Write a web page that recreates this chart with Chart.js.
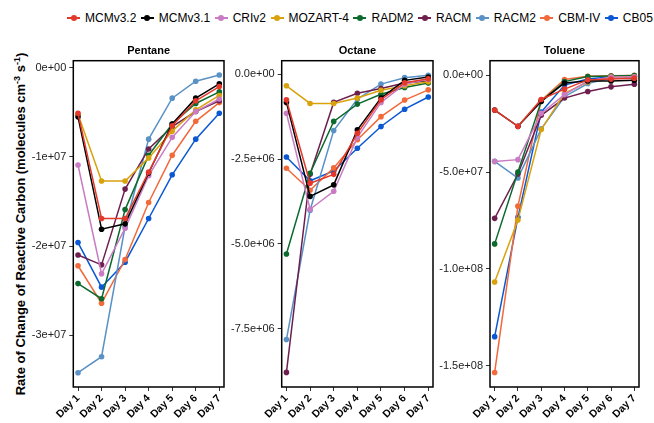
<!DOCTYPE html>
<html>
<head>
<meta charset="utf-8">
<script src="https://cdn.jsdelivr.net/npm/chart.js@4.4.0/dist/chart.umd.min.js"></script>
<style>
  body { margin: 0; width: 654px; height: 423px; position: relative; background: #fff; overflow: hidden;
         font-family: "Liberation Sans", Arial, sans-serif; }
  #legend { position: absolute; top: 11px; left: 67px; display: flex; align-items: center; white-space: nowrap;
            font-size: 12px; color: #000; }
  .item { display: flex; align-items: center; margin-right: 4.5px; }
  .key { position: relative; width: 13px; height: 12px; margin-right: 5px; }
  .key .ln { position: absolute; left: 0; right: 0; top: 5px; height: 2px; }
  .key .dt { position: absolute; left: 3.5px; top: 3px; width: 6px; height: 6px; border-radius: 50%; }
  #ytitle { position: absolute; left: 20px; top: 224px; transform: translate(-50%, -50%) rotate(-90deg);
            white-space: nowrap; font-weight: bold; font-size: 13px; color: #000; }
  #ytitle sup { font-size: 9px; }
  canvas { position: absolute; top: 40px; }
</style>
</head>
<body>
<div id="legend"></div>
<div id="ytitle">Rate of Change of Reactive Carbon (molecules cm<sup>-3</sup> s<sup>-1</sup>)</div>
<canvas id="c0" width="200" height="383" style="left:28px"></canvas>
<canvas id="c1" width="209" height="383" style="left:228px"></canvas>
<canvas id="c2" width="207" height="383" style="left:436px"></canvas>
<script>
const days = ['Day 1', 'Day 2', 'Day 3', 'Day 4', 'Day 5', 'Day 6', 'Day 7'];
const mechanisms = ['MCMv3.2', 'MCMv3.1', 'CRIv2', 'MOZART-4', 'RADM2', 'RACM', 'RACM2', 'CBM-IV', 'CB05'];
const colours = ['#e4392a', '#000000', '#c97cc4', '#d9a20c', '#0c6a2f', '#6d1f4e', '#5a92c6', '#f2693a', '#0b58d4'];

// rows follow mechanisms order, values per day
const pentane = [
  [-0.51e7, -1.69e7, -1.69e7, -1.17e7, -0.65e7, -0.37e7, -0.21e7],
  [-0.55e7, -1.81e7, -1.75e7, -1.18e7, -0.63e7, -0.34e7, -0.18e7],
  [-1.09e7, -2.31e7, -1.80e7, -1.21e7, -0.78e7, -0.49e7, -0.35e7],
  [-0.52e7, -1.27e7, -1.27e7, -1.01e7, -0.71e7, -0.47e7, -0.31e7],
  [-2.42e7, -2.59e7, -1.59e7, -0.98e7, -0.63e7, -0.40e7, -0.27e7],
  [-2.10e7, -2.21e7, -1.36e7, -0.91e7, -0.66e7, -0.49e7, -0.37e7],
  [-3.42e7, -3.24e7, -1.78e7, -0.80e7, -0.34e7, -0.15e7, -0.08e7],
  [-2.22e7, -2.64e7, -2.15e7, -1.51e7, -0.98e7, -0.60e7, -0.39e7],
  [-1.96e7, -2.46e7, -2.18e7, -1.69e7, -1.20e7, -0.80e7, -0.51e7]
];
const octane = [
  [-0.75e6, -3.21e6, -2.95e6, -1.74e6, -0.75e6, -0.25e6, -0.13e6],
  [-0.83e6, -3.60e6, -3.26e6, -1.64e6, -0.70e6, -0.18e6, -0.08e6],
  [-1.15e6, -3.98e6, -3.45e6, -1.86e6, -0.83e6, -0.29e6, -0.15e6],
  [-0.34e6, -0.86e6, -0.86e6, -0.70e6, -0.47e6, -0.34e6, -0.22e6],
  [-5.30e6, -2.92e6, -1.39e6, -0.88e6, -0.59e6, -0.39e6, -0.26e6],
  [-8.79e6, -2.95e6, -0.83e6, -0.56e6, -0.42e6, -0.26e6, -0.20e6],
  [-7.82e6, -4.01e6, -1.66e6, -0.73e6, -0.29e6, -0.10e6, -0.03e6],
  [-2.77e6, -3.42e6, -2.76e6, -1.93e6, -1.25e6, -0.76e6, -0.46e6],
  [-2.44e6, -3.14e6, -2.85e6, -2.18e6, -1.54e6, -1.03e6, -0.67e6]
];
const toluene = [
  [-1.80e7, -2.64e7, -1.25e7, -0.72e7, -0.24e7, -0.20e7, -0.15e7],
  [-1.80e7, -2.64e7, -1.35e7, -0.40e7, -0.30e7, -0.30e7, -0.26e7],
  [-4.45e7, -4.36e7, -1.97e7, -1.00e7, -0.30e7, -0.10e7, -0.08e7],
  [-10.68e7, -7.48e7, -2.80e7, -0.94e7, -0.35e7, -0.10e7, -0.08e7],
  [-8.71e7, -5.00e7, -1.35e7, -0.33e7, -0.07e7, -0.04e7, -0.02e7],
  [-7.39e7, -5.10e7, -2.07e7, -1.18e7, -0.84e7, -0.60e7, -0.46e7],
  [-4.45e7, -5.31e7, -2.77e7, -1.11e7, -0.43e7, -0.15e7, -0.08e7],
  [-15.35e7, -6.76e7, -1.30e7, -0.22e7, -0.05e7, -0.03e7, -0.01e7],
  [-13.50e7, -7.34e7, -1.90e7, -0.51e7, -0.19e7, -0.08e7, -0.05e7]
];

const pentaneTicks = [0, -1e7, -2e7, -3e7];
const pentaneTickLabels = ['0e+00', '-1e+07', '-2e+07', '-3e+07'];
const octaneTicks = [0, -2.5e6, -5e6, -7.5e6];
const octaneTickLabels = ['0.0e+00', '-2.5e+06', '-5.0e+06', '-7.5e+06'];
const tolueneTicks = [0, -5e7, -1e8, -1.5e8];
const tolueneTickLabels = ['0.0e+00', '-5.0e+07', '-1.0e+08', '-1.5e+08'];

const FONT = '"Liberation Sans", Arial, sans-serif';

// legend
const lg = document.getElementById('legend');
mechanisms.forEach((m, i) => {
  const it = document.createElement('div');
  it.className = 'item';
  it.innerHTML = '<span class="key"><span class="ln" style="background:' + colours[i] + '"></span>' +
    '<span class="dt" style="background:' + colours[i] + '"></span></span><span>' + m + '</span>';
  lg.appendChild(it);
});

const boxPlugin = {
  id: 'box',
  afterDraw(chart) {
    const a = chart.chartArea, c = chart.ctx;
    c.save();
    c.strokeStyle = '#000';
    c.lineWidth = 1.5;
    c.strokeRect(a.left, a.top, a.right - a.left, a.bottom - a.top);
    c.restore();
  }
};

function panel(id, title, rows, ticks, tickLabels, yMin, yMax, axisW) {
  return new Chart(document.getElementById(id), {
    type: 'line',
    data: {
      datasets: rows.map((r, i) => ({
        label: mechanisms[i],
        data: r.map((v, d) => ({ x: d, y: v })),
        borderColor: colours[i],
        backgroundColor: colours[i],
        borderWidth: 1.5,
        pointRadius: 2.8,
        pointBorderWidth: 0,
        tension: 0
      }))
    },
    plugins: [boxPlugin],
    options: {
      responsive: false,
      animation: false,
      layout: { padding: { left: 0, right: 4, top: 0, bottom: 0 } },
      plugins: {
        legend: { display: false },
        tooltip: { enabled: false },
        title: { display: true, fullSize: false, text: title, color: '#000',
                 font: { family: FONT, size: 11, weight: 'bold' },
                 padding: { top: 4, bottom: 3.5 } }
      },
      scales: {
        x: {
          type: 'linear', min: -0.2, max: 6.2,
          afterBuildTicks: s => { s.ticks = days.map((d, i) => ({ value: i })); },
          afterFit: s => { s.height = 36; s.paddingLeft = 0; s.paddingRight = 0; },
          grid: { drawOnChartArea: false, drawTicks: true, tickLength: 4, color: '#333', lineWidth: 1 },
          border: { display: false },
          ticks: { autoSkip: false, minRotation: 45, maxRotation: 45, padding: 1, color: '#000',
                   font: { family: FONT, size: 10.5, weight: 'bold' },
                   callback: v => days[v] }
        },
        y: {
          min: yMin, max: yMax,
          afterBuildTicks: s => { s.ticks = ticks.map(v => ({ value: v })); },
          afterFit: s => { s.width = axisW; },
          grid: { drawOnChartArea: false, drawTicks: true, tickLength: 4, color: '#333', lineWidth: 1 },
          border: { display: false },
          ticks: { padding: 3, color: '#222', font: { family: FONT, size: 11 },
                   callback: (v, i) => tickLabels[i] }
        }
      }
    }
  });
}

panel('c0', 'Pentane', pentane, pentaneTicks, pentaneTickLabels, -3.58e7, 0.08e7, 45.3);
panel('c1', 'Octane', octane, octaneTicks, octaneTickLabels, -9.22e6, 0.4e6, 53.7);
panel('c2', 'Toluene', toluene, tolueneTicks, tolueneTickLabels, -1.61e8, 0.075e8, 54);
</script>
</body>
</html>
